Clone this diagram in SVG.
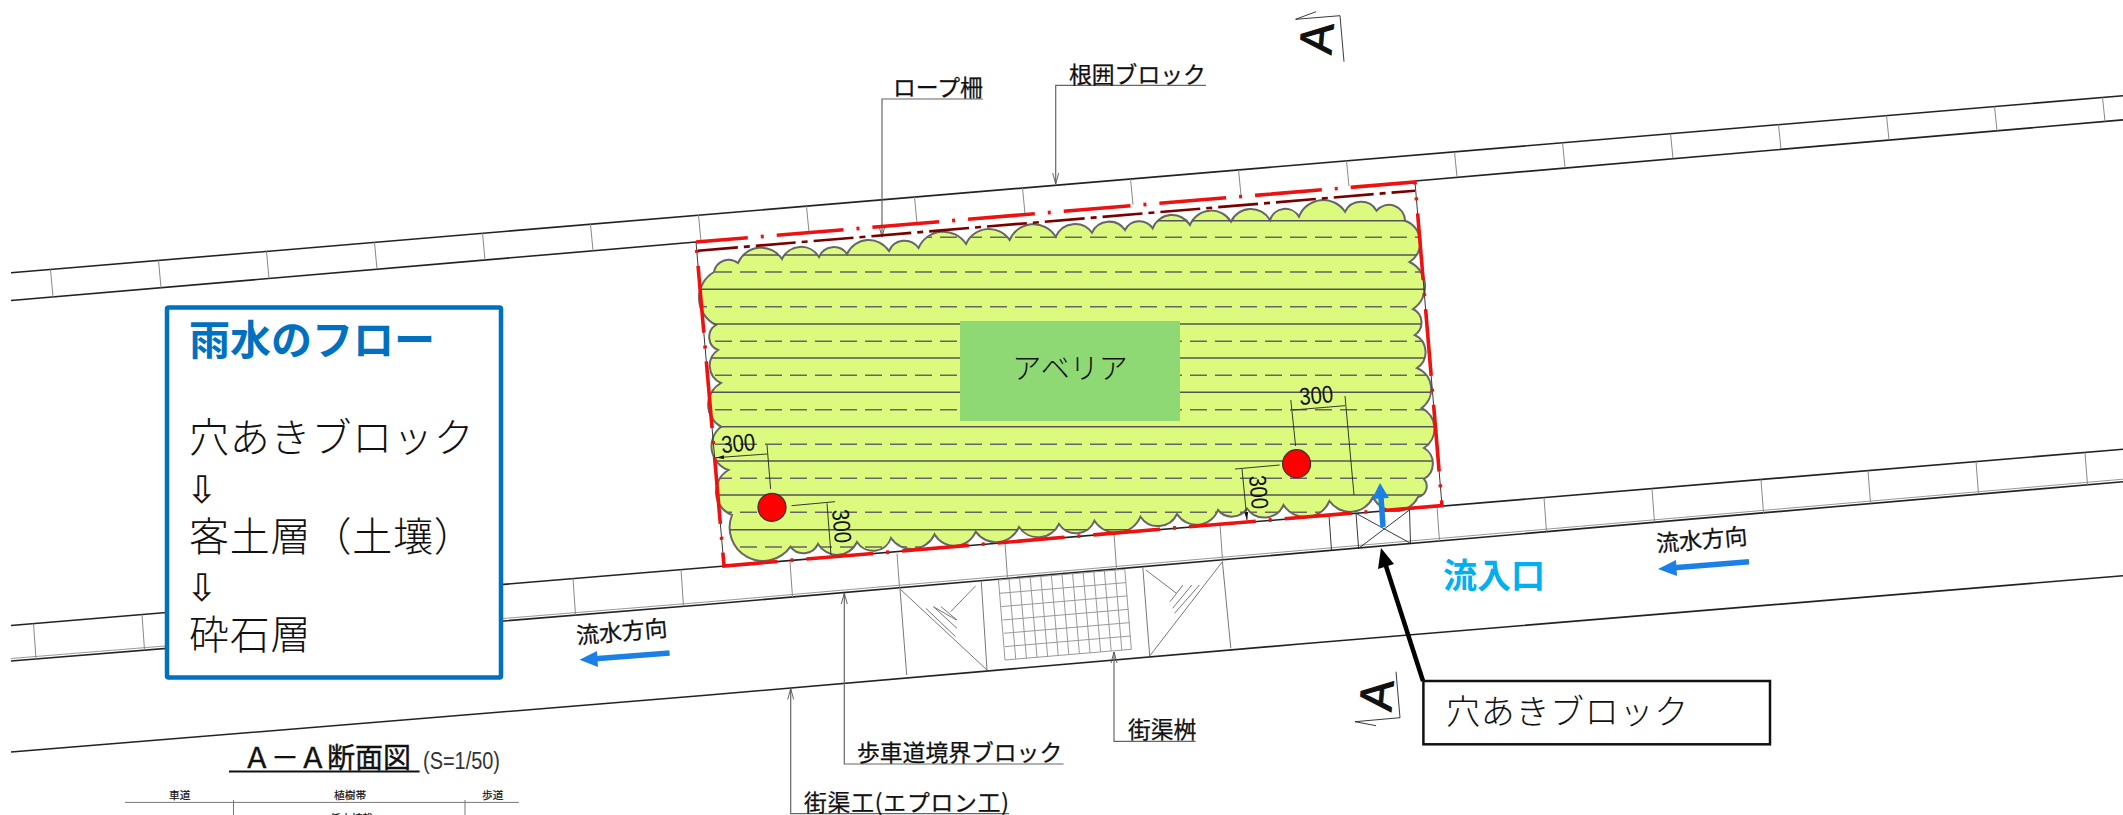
<svg xmlns="http://www.w3.org/2000/svg" width="2123" height="815" viewBox="0 0 2123 815">
<style>
text{font-family:"Noto Sans CJK JP","Liberation Sans",sans-serif;fill:#111}
.road{fill:none;stroke:#222;stroke-width:1.6}
.lite{fill:none;stroke:#999;stroke-width:1}
.joint{fill:none;stroke:#888;stroke-width:1}
.lead{fill:none;stroke:#666;stroke-width:1.2}
.thin{fill:none;stroke:#777;stroke-width:1}
.dim{fill:none;stroke:#222;stroke-width:.9}
.redb{fill:none;stroke:#f01010;stroke-width:3.6;stroke-dasharray:67 13 3 13;stroke-dashoffset:15}
.hs{stroke:#555;stroke-width:1.5;fill:none}
.hd{stroke:#666;stroke-width:1.5;fill:none;stroke-dasharray:17 8}
.lab{font-size:22.8px;stroke:#111;stroke-width:.25}
.flow{font-size:40px;fill:#111;font-weight:300;letter-spacing:.8px}
.dimt{font-size:24px;font-family:"Liberation Sans",sans-serif}
.blue{fill:none;stroke:#1a80e8;stroke-width:5.5}
.bigA{font-family:"Liberation Sans",sans-serif;font-size:46px;stroke:#111;stroke-width:1.1}
</style>
<defs>
<clipPath id="hc"><path d="M716 325A30 30 0 0 1 714 272A15 15 0 0 1 738 263A25 25 0 0 1 782 259A21 21 0 0 1 819 257A16 16 0 0 1 847 254A24 24 0 0 1 889 251A17 17 0 0 1 918.5 248A27 27 0 0 1 966 244A25 25 0 0 1 1009.6 240A26 26 0 0 1 1055.7 236.7A21 21 0 0 1 1092 232.7A19 19 0 0 1 1125 230A16 16 0 0 1 1152.6 228.3A21 21 0 0 1 1190 225A23 23 0 0 1 1231 221.7A22 22 0 0 1 1270 220A16 16 0 0 1 1299 216.7A26 26 0 0 1 1345 211.7A18 18 0 0 1 1376.6 210.7A16 16 0 0 1 1405 220.7A23 23 0 0 1 1409.5 262A27 27 0 0 1 1413 309A15 15 0 0 1 1414.8 335A19 19 0 0 1 1417 368A23 23 0 0 1 1421.6 408A23 23 0 0 1 1424 448A18 18 0 0 1 1424 479A11 11 0 0 1 1418 497A25 25 0 0 1 1373 497A25 25 0 0 1 1329.5 501A26 26 0 0 1 1283.5 505A21 21 0 0 1 1247 508.5A18 18 0 0 1 1218 510A23 23 0 0 1 1177 514A21 21 0 0 1 1140.5 516.7A26 26 0 0 1 1094.5 520.7A20 20 0 0 1 1059 524A23 23 0 0 1 1019 527A25 25 0 0 1 975.7 531.7A23 23 0 0 1 934.5 534.3A25 25 0 0 1 891 538A19 19 0 0 1 857 542A22 22 0 0 1 818 544A16 16 0 0 1 790.5 546.7A33.5 33.5 0 0 1 732 515A25 25 0 0 1 728.5 470A25 25 0 0 1 721 426.7A25 25 0 0 1 721 383A19 19 0 0 1 718 350A14 14 0 0 1 716 325Z"/></clipPath>
<marker id="oa" markerWidth="12" markerHeight="10" refX="11" refY="4" orient="auto" markerUnits="userSpaceOnUse"><path d="M0 1L11 4L0 7" fill="none" stroke="#555" stroke-width=".9"/></marker>
<marker id="da" markerWidth="9" markerHeight="6" refX="8" refY="3" orient="auto-start-reverse" markerUnits="userSpaceOnUse"><path d="M0 1L8 3L0 5Z" fill="#111"/></marker>
</defs>
<rect width="2123" height="815" fill="#fff"/>
<g id="connectors">
<g id="road">
<path class="road" d="M11 272.8L2123 95.8"/>
<path class="road" d="M11 300.5L696 242M1415 181L2123 119.9"/>
<path class="road" d="M11 625.5L2123 449.3"/>
<path class="road" d="M11 661L700 605L2123 481.7"/>
<path class="lite" d="M11 658.5L700 602.5L2123 479.2"/>
<path class="road" d="M11 752L700 695.8L1300 644L2123 575.7"/>
<path class="joint" d="M50.5 269.5L53 296.9M158.5 260.4L161 287.7M266.5 251.4L269 278.4M374.5 242.3L377 269.2M482.5 233.3L485 260M590.5 224.2L593 250.7M698.5 215.1L701 241.5M806.5 206.1L809 232.3M914.5 197L917 223M1022.5 188L1025 213.8M1130.5 178.9L1133 204.6M1238.5 169.8L1241 195.3M1346.5 160.8L1349 186.1M1454.5 151.8L1457 176.9M1562.5 142.7L1565 167.6M1670.5 133.6L1673 158.4M1778.5 124.6L1781 149.2M1886.5 115.5L1889 140M1994.5 106.5L1997 130.7M2102.5 97.4L2105 121.5"/>
<path class="joint" d="M33.5 623.6L36 659M142 614.5L144.5 650.1M573 578.6L575.5 615.1M681 569.6L683.5 606.3M790 562.1L792.5 597M897 553.6L899.5 587.7M1005 542.6L1007.5 578.3M1114 533.5L1116.5 568.9M1220 524.6L1222.5 559.7M1437 506.5L1439.5 540.9M1544 497.6L1546.5 531.6M1652 488.6L1654.5 522.2M1761 479.5L1763.5 512.8M1868 470.6L1870.5 503.5M1976 461.6L1978.5 494.1M2085 452.5L2087.5 484.7"/>
<path class="dim" d="M1329 515.5L1331.5 550.2M1356 513.3L1358.6 548.3M1409.5 510L1410.5 543.3M1356 513.3L1410.5 543.3M1409.5 510L1358.6 548.3"/>
</g>
<g id="basin">
<path class="thin" d="M900 589L987 670M900 589L906.7 675M981.3 581.7L987 670M975.5 586L950.7 611.7M933.4 606.7L956.4 620M925.8 608.3L955.6 636.7M933.4 606.7L957 628.3M941 606.7L957 620"/>
<path class="thin" d="M1222.4 561.7L1149.7 656M1142.8 567.3L1149.7 656M1222.4 561.7L1230.8 648.3M1145.8 570L1176.5 593.3M1183 585L1170 601.7M1191.8 585L1172.6 608.3M1199.4 585L1174.6 613.3"/>
<path fill="none" stroke="#999" stroke-width="1" d="M998.5 580L1124.8 569.3L1131.3 649.3L1005 660ZM999.9 593.3L1126.1 582.6M1001.2 606.6L1127.4 595.9M1002.5 620L1128.7 609.3M1003.8 633.3L1130 622.6M1005 646.6L1130.6 636M1009 579L1015.7 659M1019.6 578.3L1026.4 658.2M1030.2 577.4L1037 657.3M1040.8 576.5L1047.6 656.4M1051.4 575.6L1058.2 655.5M1062 574.7L1068.8 654.6M1072.6 573.8L1079.4 653.7M1083.2 572.9L1090 652.8M1093.8 572L1100.6 651.9M1104.4 571.1L1111.2 651M1115 570.2L1121.8 650.1"/>
</g>
<g id="leaders">
<path class="lead" d="M983 99H882V237" marker-end="url(#oa)"/>
<path class="lead" d="M1206 85.3H1055.7V184" marker-end="url(#oa)"/>
<path class="lead" d="M1063.6 764H844.3V593" marker-end="url(#oa)"/>
<path class="lead" d="M1009 813.7H790.7V688.5" marker-end="url(#oa)"/>
<path class="lead" d="M1195.6 741.3H1114V652" marker-end="url(#oa)"/>
</g>
</g>
<g id="planting">
<path d="M716 325A30 30 0 0 1 714 272A15 15 0 0 1 738 263A25 25 0 0 1 782 259A21 21 0 0 1 819 257A16 16 0 0 1 847 254A24 24 0 0 1 889 251A17 17 0 0 1 918.5 248A27 27 0 0 1 966 244A25 25 0 0 1 1009.6 240A26 26 0 0 1 1055.7 236.7A21 21 0 0 1 1092 232.7A19 19 0 0 1 1125 230A16 16 0 0 1 1152.6 228.3A21 21 0 0 1 1190 225A23 23 0 0 1 1231 221.7A22 22 0 0 1 1270 220A16 16 0 0 1 1299 216.7A26 26 0 0 1 1345 211.7A18 18 0 0 1 1376.6 210.7A16 16 0 0 1 1405 220.7A23 23 0 0 1 1409.5 262A27 27 0 0 1 1413 309A15 15 0 0 1 1414.8 335A19 19 0 0 1 1417 368A23 23 0 0 1 1421.6 408A23 23 0 0 1 1424 448A18 18 0 0 1 1424 479A11 11 0 0 1 1418 497A25 25 0 0 1 1373 497A25 25 0 0 1 1329.5 501A26 26 0 0 1 1283.5 505A21 21 0 0 1 1247 508.5A18 18 0 0 1 1218 510A23 23 0 0 1 1177 514A21 21 0 0 1 1140.5 516.7A26 26 0 0 1 1094.5 520.7A20 20 0 0 1 1059 524A23 23 0 0 1 1019 527A25 25 0 0 1 975.7 531.7A23 23 0 0 1 934.5 534.3A25 25 0 0 1 891 538A19 19 0 0 1 857 542A22 22 0 0 1 818 544A16 16 0 0 1 790.5 546.7A33.5 33.5 0 0 1 732 515A25 25 0 0 1 728.5 470A25 25 0 0 1 721 426.7A25 25 0 0 1 721 383A19 19 0 0 1 718 350A14 14 0 0 1 716 325Z" fill="#dcfb7e" stroke="#666" stroke-width="2"/>
<g clip-path="url(#hc)">
<path class="hs" d="M690 220.7H1440M690 255H1440M690 289.3H1440M690 324H1440M690 358H1440M690 392.3H1440M690 426.7H1440M690 461H1440M690 495H1440M690 529.7H1440"/>
<path class="hd" d="M690 237.3H1440M690 272H1440M690 306.7H1440M690 341.3H1440M690 375.3H1440M690 409.7H1440M690 444.3H1440M690 478.3H1440M690 512.3H1440M690 547H1440"/>
</g>
<g id="redline">
<path d="M696 242L724 566M1415 182L1442 505.5" fill="none" stroke="#222" stroke-width=".9"/>
<path class="redb" d="M696 242L1415 182L1442 505.5L724 566Z"/>
<path d="M698 250.7L1415 190.7" fill="none" stroke="#7a0000" stroke-width="2.6" stroke-dasharray="40 6 6 6"/>
</g>
</g>
<g id="abelia">
<rect x="960" y="321" width="220" height="100" fill="#8fd974"/>
<text x="1070" y="379" font-size="29" font-weight="300" text-anchor="middle">アベリア</text>
</g>
<g id="dims">
<circle cx="772" cy="507.3" r="14" fill="#f00" stroke="#333" stroke-width="1.2"/>
<circle cx="1296.6" cy="463.7" r="14" fill="#f00" stroke="#333" stroke-width="1.2"/>
<path class="dim" d="M767 445L770.6 489M791.5 505.7L835 501.7M1290.8 400L1295.6 446M1345 396L1354 495M1279.6 465L1235 469"/>
<path class="dim" d="M716 457.7L767 454M827 503.3L831 555M1293 410L1345 405.7M1242 469L1247 520" marker-start="url(#da)" marker-end="url(#da)"/>
<text class="dimt" transform="translate(722 453) rotate(-5)" textLength="34" lengthAdjust="spacingAndGlyphs">300</text>
<text class="dimt" transform="translate(832 510) rotate(85)" textLength="34" lengthAdjust="spacingAndGlyphs">300</text>
<text class="dimt" transform="translate(1300 405) rotate(-5)" textLength="34" lengthAdjust="spacingAndGlyphs">300</text>
<text class="dimt" transform="translate(1249 476) rotate(85)" textLength="34" lengthAdjust="spacingAndGlyphs">300</text>
</g>
<g id="inlet">
<path class="blue" d="M1383 527L1380.8 494"/>
<path d="M1380 483L1389 498L1372 499Z" fill="#1a80e8"/>
<text x="1443" y="588" font-size="34" font-weight="700" style="fill:#00b0f0">流入口</text>
</g>
<g id="flow-left">
<text class="lab" transform="translate(577 644) rotate(-5)">流水方向</text>
<path class="blue" d="M669.6 653L592 659"/>
<path d="M579.5 659.7L597 651L598 667Z" fill="#1a80e8"/>
</g>
<g id="flow-right">
<text class="lab" transform="translate(1657 552) rotate(-5)">流水方向</text>
<path class="blue" d="M1749 561.7L1671 568"/>
<path d="M1658 569L1676 560L1677 576Z" fill="#1a80e8"/>
</g>
<g id="labels">
<text class="lab" x="893" y="96">ロープ柵</text>
<text class="lab" x="1069" y="83">根囲ブロック</text>
<text class="lab" x="857" y="761">歩車道境界ブロック</text>
<text class="lab" x="804" y="811" textLength="205">街渠工(エプロン工)</text>
<text class="lab" x="1128" y="738">街渠桝</text>
</g>
<g id="section-a-top">
<text class="bigA" transform="translate(1331 55) rotate(-85)">A</text>
<path class="dim" d="M1316 11.7L1295.6 19.3L1340 15.7L1344 61.7"/>
</g>
<g id="section-a-bottom">
<text class="bigA" transform="translate(1391 712) rotate(-85)">A</text>
<path class="dim" d="M1396 671.7L1400 717.7L1355 721.7L1376 725.7"/>
</g>
<g id="callout">
<path d="M1423 681L1385 563" fill="none" stroke="#000" stroke-width="4.5"/>
<path d="M1381 548L1394 564L1378 569Z" fill="#000"/>
<rect x="1423.4" y="681" width="346.6" height="63.3" fill="#fff" stroke="#111" stroke-width="2.5"/>
<text x="1446" y="724" font-size="34" font-weight="300" letter-spacing=".7">穴あきブロック</text>
</g>
<g id="flow-box">
<rect x="167" y="307.5" width="334" height="370" rx="1.5" fill="#fff" stroke="#0070c0" stroke-width="4.5"/>
<text x="189" y="355" font-size="41" font-weight="700" style="fill:#0070c0">雨水のフロー</text>
<text class="flow" x="189" y="452">穴あきブロック</text>
<text x="186" y="503" font-size="38" style="font-family:'DejaVu Sans',sans-serif">⇩</text>
<text class="flow" x="189" y="551">客土層（土壤）</text>
<text x="186" y="601" font-size="38" style="font-family:'DejaVu Sans',sans-serif">⇩</text>
<text class="flow" x="189" y="649">砕石層</text>
</g>
<g id="section">
<text x="243" y="768" font-size="28" stroke="#111" stroke-width=".4">Ａ－Ａ断面図</text>
<path d="M229 771.5H419.6" stroke="#111" stroke-width="2" fill="none"/>
<text x="423" y="769" font-size="23" textLength="77" lengthAdjust="spacingAndGlyphs" style="font-family:'Liberation Sans',sans-serif;fill:#333">(S=1/50)</text>
<text x="169" y="799" font-size="10.7" stroke="#111" stroke-width=".2">車道</text>
<text x="334" y="799" font-size="10.7" stroke="#111" stroke-width=".2">植樹帯</text>
<text x="482" y="799" font-size="10.7" stroke="#111" stroke-width=".2">歩道</text>
<text x="330" y="822" font-size="10.7" stroke="#111" stroke-width=".2">低木植栽</text>
<path class="thin" d="M125 802.4H518.8M233.5 800V815M465 800V815"/>
</g>
</svg>
